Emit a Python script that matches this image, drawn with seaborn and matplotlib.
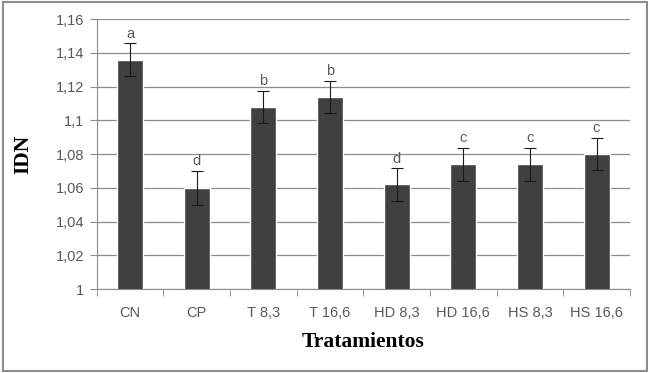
import numpy as np
import pandas as pd
import matplotlib
matplotlib.use("Agg")
import matplotlib.pyplot as plt
import seaborn as sns

# ==================================================
# Data
# ==================================================
treatments = ["CN", "CP", "T 8,3", "T 16,6", "HD 8,3", "HD 16,6", "HS 8,3", "HS 16,6"]
idn_mean = [1.136, 1.060, 1.108, 1.114, 1.062, 1.074, 1.074, 1.080]
idn_err = [0.0095, 0.010, 0.0095, 0.0095, 0.0097, 0.0097, 0.0097, 0.0097]
letters = ["a", "d", "b", "b", "d", "c", "c", "c"]

y_ticks = [1.00, 1.02, 1.04, 1.06, 1.08, 1.10, 1.12, 1.14, 1.16]
y_tick_labels = ["1", "1,02", "1,04", "1,06", "1,08", "1,1", "1,12", "1,14", "1,16"]

# ==================================================
# Plot
# ==================================================
sns.set_style("white")
plt.rcParams["font.family"] = ["Liberation Sans", "DejaVu Sans"]

df = pd.DataFrame({"Tratamientos": treatments, "IDN": idn_mean})

fig = plt.figure(figsize=(6.5, 3.73), dpi=100)
ax = fig.add_axes([0.149, 0.225, 0.820, 0.724])

grid_col = "#8c8c8c"
text_col = "#595959"

sns.barplot(
    data=df,
    x="Tratamientos",
    y="IDN",
    color="#404040",
    saturation=1,
    width=0.39,
    errorbar=None,
    ax=ax,
    zorder=3
)

ax.errorbar(
    np.arange(len(treatments)),
    idn_mean,
    yerr=idn_err,
    fmt="none",
    ecolor="#1a1a1a",
    elinewidth=0.8,
    capsize=4,
    capthick=0.8,
    zorder=4
)

for i, (m, e, lt) in enumerate(zip(idn_mean, idn_err, letters)):
    ax.text(i, m + e + 0.0015, lt, ha="center", va="bottom",
            fontsize=10.5, color=text_col, zorder=5)

ax.set_ylim(1.0, 1.16)
ax.set_xlim(-0.5, len(treatments) - 0.5)
ax.set_yticks(y_ticks)
ax.set_yticklabels(y_tick_labels)

ax.yaxis.grid(True, color=grid_col, linewidth=0.9)
ax.set_axisbelow(True)

for s in ["top", "right"]:
    ax.spines[s].set_visible(False)
ax.spines["left"].set_color(grid_col)
ax.spines["bottom"].set_color(grid_col)

# category boundary ticks on x axis
ax.set_xticks(np.arange(-0.5, len(treatments)), minor=True)
ax.tick_params(axis="x", which="major", length=0, pad=12,
               labelsize=10.5, labelcolor=text_col)
ax.tick_params(axis="x", which="minor", length=5, color=grid_col,
               direction="out", bottom=True)
ax.tick_params(axis="y", length=5, color=grid_col, direction="out",
               left=True, labelsize=10.5, labelcolor=text_col, pad=4)

ax.set_xlabel("Tratamientos", family="Liberation Serif", fontweight="bold",
              fontsize=15.5, color="black", labelpad=9)
ax.set_ylabel("IDN", family="Liberation Serif", fontweight="bold",
              fontsize=15.5, color="black", labelpad=16)

# outer chart border
fig.patches.append(plt.Rectangle(
    (0.004, 0.006), 0.992, 0.988, transform=fig.transFigure,
    fill=False, edgecolor="#8c8c8c", linewidth=1.5
))

fig.savefig("out.png", dpi=100)
